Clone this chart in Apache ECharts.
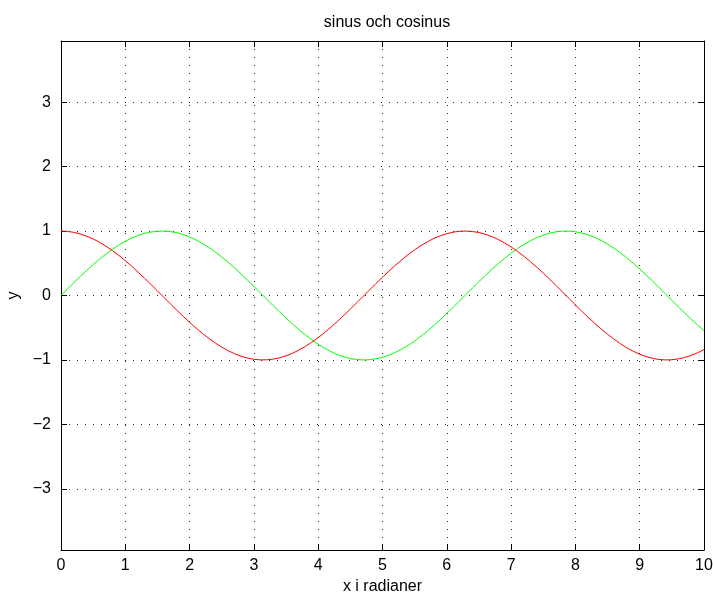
<!DOCTYPE html>
<html>
<head>
<meta charset="utf-8">
<script src="https://cdn.jsdelivr.net/npm/echarts@6/dist/echarts.min.js"></script>
<style>
  html, body { margin: 0; padding: 0; background: #fff; }
  #chart { width: 713px; height: 596px; }
</style>
</head>
<body>
<div id="chart"></div>
<script>
// x-värden (radianer)
const xValues = [0, 0.1, 0.2, 0.3, 0.4, 0.5, 0.6, 0.7, 0.8, 0.9, 1, 1.1, 1.2, 1.3, 1.4, 1.5, 1.6, 1.7, 1.8, 1.9,
  2, 2.1, 2.2, 2.3, 2.4, 2.5, 2.6, 2.7, 2.8, 2.9, 3, 3.1, 3.2, 3.3, 3.4, 3.5, 3.6, 3.7, 3.8, 3.9,
  4, 4.1, 4.2, 4.3, 4.4, 4.5, 4.6, 4.7, 4.8, 4.9, 5, 5.1, 5.2, 5.3, 5.4, 5.5, 5.6, 5.7, 5.8, 5.9,
  6, 6.1, 6.2, 6.3, 6.4, 6.5, 6.6, 6.7, 6.8, 6.9, 7, 7.1, 7.2, 7.3, 7.4, 7.5, 7.6, 7.7, 7.8, 7.9,
  8, 8.1, 8.2, 8.3, 8.4, 8.5, 8.6, 8.7, 8.8, 8.9, 9, 9.1, 9.2, 9.3, 9.4, 9.5, 9.6, 9.7, 9.8, 9.9, 10];
// gröna kurvan
const sinValues = [0.000, 0.100, 0.199, 0.296, 0.389, 0.479, 0.565, 0.644, 0.717, 0.783,
  0.841, 0.891, 0.932, 0.964, 0.985, 0.997, 1.000, 0.992, 0.974, 0.946,
  0.909, 0.863, 0.808, 0.746, 0.675, 0.598, 0.516, 0.427, 0.335, 0.239,
  0.141, 0.042, -0.058, -0.158, -0.256, -0.351, -0.443, -0.530, -0.612, -0.688,
  -0.757, -0.818, -0.872, -0.916, -0.952, -0.978, -0.994, -1.000, -0.996, -0.982,
  -0.959, -0.926, -0.883, -0.832, -0.773, -0.706, -0.631, -0.551, -0.465, -0.374,
  -0.279, -0.182, -0.083, 0.017, 0.117, 0.215, 0.312, 0.405, 0.494, 0.578,
  0.657, 0.729, 0.794, 0.850, 0.899, 0.938, 0.968, 0.988, 0.999, 0.999,
  0.989, 0.970, 0.941, 0.902, 0.855, 0.798, 0.734, 0.663, 0.585, 0.501,
  0.412, 0.319, 0.223, 0.124, 0.025, -0.075, -0.175, -0.272, -0.367, -0.457, -0.544];
// röda kurvan
const cosValues = [1.000, 0.995, 0.980, 0.955, 0.921, 0.878, 0.825, 0.765, 0.697, 0.622,
  0.540, 0.454, 0.362, 0.267, 0.170, 0.071, -0.029, -0.129, -0.227, -0.323,
  -0.416, -0.505, -0.589, -0.666, -0.737, -0.801, -0.857, -0.904, -0.942, -0.971,
  -0.990, -0.999, -0.998, -0.987, -0.967, -0.936, -0.897, -0.848, -0.791, -0.726,
  -0.654, -0.575, -0.490, -0.401, -0.307, -0.211, -0.112, -0.012, 0.087, 0.187,
  0.284, 0.378, 0.469, 0.554, 0.635, 0.709, 0.776, 0.835, 0.886, 0.927,
  0.960, 0.983, 0.997, 1.000, 0.993, 0.977, 0.950, 0.914, 0.869, 0.816,
  0.754, 0.686, 0.608, 0.526, 0.439, 0.347, 0.252, 0.154, 0.054, -0.046,
  -0.146, -0.244, -0.340, -0.432, -0.519, -0.602, -0.678, -0.748, -0.811, -0.865,
  -0.911, -0.948, -0.975, -0.993, -1.000, -0.997, -0.984, -0.962, -0.930, -0.889, -0.839];
const yTicks = [-3, -2, -1, 0, 1, 2, 3];

const font = 'Liberation Sans, Arial, Helvetica, sans-serif';
const fmt = v => String(v).replace('-', '\u2212');

const gridLine = { show: true, lineStyle: { color: '#222', width: 1, type: [1, 7] } };
const boxLine = { show: true, onZero: false, lineStyle: { color: '#000', width: 1 } };

const chart = echarts.init(document.getElementById('chart'));
chart.setOption({
  animation: false,
  backgroundColor: '#fff',
  title: {
    text: 'sinus och cosinus',
    left: 382, top: 10, textAlign: 'center',
    textStyle: { fontFamily: font, fontSize: 16, fontWeight: 'normal', color: '#000' }
  },
  grid: { left: 61, right: 9, top: 41, bottom: 46, outerBoundsMode: 'none', containLabel: false },
  xAxis: [{
    type: 'value', min: 0, max: 10, interval: 1,
    name: 'x i radianer', nameLocation: 'middle', nameGap: 29,
    nameTextStyle: { fontFamily: font, fontSize: 16, color: '#000' },
    axisLine: boxLine,
    axisTick: { show: true, inside: true, length: 6, lineStyle: { color: '#000' } },
    axisLabel: { fontFamily: font, fontSize: 16, color: '#000', margin: 8, formatter: fmt },
    splitLine: gridLine
  }, {
    type: 'value', min: 0, max: 10, interval: 1, position: 'top',
    axisLine: boxLine,
    axisTick: { show: true, inside: true, length: 6, lineStyle: { color: '#000' } },
    axisLabel: { show: false },
    splitLine: { show: false }
  }],
  yAxis: [{
    type: 'value', min: -3.95, max: 3.95,
    name: 'y', nameLocation: 'middle', nameGap: 38, nameRotate: 90,
    nameTextStyle: { fontFamily: font, fontSize: 16, color: '#000' },
    axisLine: boxLine,
    axisTick: { show: true, inside: true, length: 6, customValues: yTicks, lineStyle: { color: '#000' } },
    axisLabel: { fontFamily: font, fontSize: 16, color: '#000', margin: 10, customValues: yTicks, formatter: fmt },
    splitLine: gridLine
  }, {
    type: 'value', min: -3.95, max: 3.95, position: 'right',
    axisLine: boxLine,
    axisTick: { show: true, inside: true, length: 6, customValues: yTicks, lineStyle: { color: '#000' } },
    axisLabel: { show: false },
    splitLine: { show: false }
  }],
  series: [{
    type: 'line', name: 'sin',
    data: xValues.map((x, i) => [x, sinValues[i]]),
    showSymbol: false,
    lineStyle: { color: '#00ff00', width: 1 }
  }, {
    type: 'line', name: 'cos',
    data: xValues.map((x, i) => [x, cosValues[i]]),
    showSymbol: false,
    lineStyle: { color: '#ff0000', width: 1 }
  }]
});
</script>
</body>
</html>
